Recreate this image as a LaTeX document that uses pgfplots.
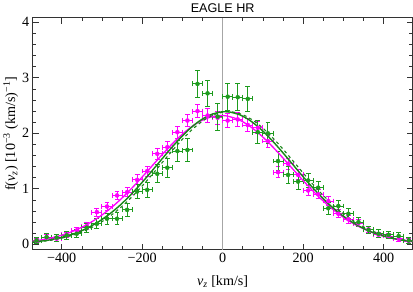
\documentclass[border=0pt]{standalone}
\usepackage{fontspec}
\setmainfont{Liberation Serif}
\newfontfamily\titlefont{Liberation Sans}
\usepackage{pgfplots}
\pgfplotsset{compat=1.18}
\usepackage{pgfplotstable}

\definecolor{mag}{RGB}{255,0,255}
\definecolor{grn}{RGB}{30,155,30}
\definecolor{grnline}{RGB}{25,135,25}

\pgfplotstableread{
x y ex ey
-462.5 0.07 12.5 0.04
-437.5 0.12 12.5 0.05
-412.5 0.10 12.5 0.05
-387.5 0.17 12.5 0.05
-362.5 0.25 12.5 0.06
-337.5 0.33 12.5 0.06
-312.5 0.58 12.5 0.07
-287.5 0.68 12.5 0.07
-262.5 0.88 12.5 0.08
-237.5 0.94 12.5 0.08
-212.5 1.16 12.5 0.09
-187.5 1.32 12.5 0.09
-162.5 1.63 12.5 0.10
-137.5 1.75 12.5 0.10
-112.5 2.02 12.5 0.11
-87.5 2.23 12.5 0.11
-62.5 2.40 12.5 0.12
-37.5 2.32 12.5 0.12
-12.5 2.28 12.5 0.12
12.5 2.23 12.5 0.12
37.5 2.25 12.5 0.12
62.5 2.15 12.5 0.12
87.5 2.10 12.5 0.11
112.5 1.86 12.5 0.11
137.5 1.30 12.5 0.10
162.5 1.45 12.5 0.10
187.5 1.25 12.5 0.09
212.5 0.97 12.5 0.09
237.5 0.90 12.5 0.08
262.5 0.78 12.5 0.08
287.5 0.55 12.5 0.07
312.5 0.45 12.5 0.07
337.5 0.38 12.5 0.06
362.5 0.27 12.5 0.06
387.5 0.17 12.5 0.05
412.5 0.15 12.5 0.05
437.5 0.10 12.5 0.05
462.5 0.06 12.5 0.04
}\magdata

\pgfplotstableread{
x y ex ey
-462.5 0.07 12.5 0.05
-437.5 0.13 12.5 0.06
-412.5 0.12 12.5 0.06
-387.5 0.16 12.5 0.07
-362.5 0.19 12.5 0.07
-337.5 0.30 12.5 0.08
-312.5 0.37 12.5 0.09
-287.5 0.46 12.5 0.10
-262.5 0.46 12.5 0.11
-237.5 0.62 12.5 0.12
-212.5 0.95 12.5 0.13
-187.5 0.98 12.5 0.14
-162.5 1.27 12.5 0.16
-137.5 1.38 12.5 0.17
-112.5 1.68 12.5 0.19
-87.5 1.70 12.5 0.21
-62.5 2.89 12.5 0.24
-37.5 2.72 12.5 0.24
-12.5 2.30 12.5 0.24
12.5 2.66 12.5 0.24
37.5 2.65 12.5 0.24
62.5 2.62 12.5 0.23
87.5 2.02 12.5 0.21
112.5 2.00 12.5 0.19
137.5 1.50 12.5 0.17
162.5 1.25 12.5 0.16
187.5 1.13 12.5 0.14
212.5 1.15 12.5 0.13
237.5 1.02 12.5 0.12
262.5 0.65 12.5 0.11
287.5 0.69 12.5 0.10
312.5 0.55 12.5 0.09
337.5 0.40 12.5 0.08
362.5 0.26 12.5 0.07
387.5 0.19 12.5 0.07
412.5 0.17 12.5 0.06
437.5 0.15 12.5 0.06
462.5 0.07 12.5 0.05
}\grndata

% magenta fit curve
\pgfplotstableread{
x y
-479 0.051
-466.5 0.062
-441.5 0.091
-416.5 0.131
-391.5 0.183
-366.5 0.252
-341.5 0.338
-316.5 0.445
-291.5 0.574
-266.5 0.724
-241.5 0.894
-216.5 1.082
-191.5 1.281
-166.5 1.485
-141.5 1.686
-116.5 1.873
-91.5 2.038
-66.5 2.172
-41.5 2.265
-16.5 2.314
-4 2.320
8.5 2.314
33.5 2.265
58.5 2.172
83.5 2.038
108.5 1.873
133.5 1.686
158.5 1.485
183.5 1.281
208.5 1.082
233.5 0.894
258.5 0.724
283.5 0.574
308.5 0.445
333.5 0.338
358.5 0.252
383.5 0.183
408.5 0.131
433.5 0.091
458.5 0.062
471 0.051
483 0.042
}\magcurve

% green solid fit curve
\pgfplotstableread{
x y
-481 0.034
-469 0.042
-456.5 0.052
-431.5 0.077
-406.5 0.113
-381.5 0.162
-356.5 0.226
-331.5 0.310
-306.5 0.415
-281.5 0.543
-256.5 0.694
-231.5 0.869
-206.5 1.063
-181.5 1.272
-156.5 1.488
-131.5 1.702
-106.5 1.904
-81.5 2.083
-56.5 2.228
-31.5 2.330
-6.5 2.382
6 2.389
18.5 2.382
43.5 2.330
68.5 2.228
93.5 2.083
118.5 1.904
143.5 1.702
168.5 1.488
193.5 1.272
218.5 1.063
243.5 0.869
268.5 0.694
293.5 0.543
318.5 0.415
343.5 0.310
368.5 0.226
393.5 0.162
418.5 0.113
443.5 0.077
468.5 0.052
481 0.042
}\grncurve

% green dashed curve
\pgfplotstableread{
x y
-489 0.026
-476 0.032
-461 0.042
-448.5 0.052
-423.5 0.077
-398.5 0.113
-373.5 0.162
-348.5 0.226
-323.5 0.310
-298.5 0.415
-273.5 0.543
-248.5 0.694
-223.5 0.869
-198.5 1.063
-173.5 1.272
-148.5 1.488
-123.5 1.702
-98.5 1.904
-73.5 2.083
-48.5 2.228
-23.5 2.330
1.5 2.382
14 2.389
26.5 2.382
51.5 2.330
76.5 2.228
101.5 2.083
126.5 1.904
151.5 1.702
176.5 1.488
201.5 1.272
226.5 1.063
251.5 0.869
276.5 0.694
301.5 0.543
326.5 0.415
351.5 0.310
376.5 0.226
401.5 0.162
426.5 0.113
451.5 0.077
476.5 0.052
489 0.042
}\dashcurve

\begin{document}
\begin{tikzpicture}
\begin{axis}[
  scale only axis, width=375bp, height=229bp,
  xmin=-472, xmax=472, ymin=-0.1, ymax=4.08,
  xtick={-400,-200,0,200,400}, xticklabels={−400,−200,0,200,400},
  minor x tick num=3,
  ytick={0,1,2,3,4}, minor y tick num=4,
  tick align=inside, major tick length=6bp, minor tick length=3.5bp,
  ticklabel style={font=\fontsize{14}{16}\selectfont},
  /pgf/number format/assume math mode=true,
  axis line style={line width=0.8pt, black!80},
  every tick/.style={black!80, line width=0.6pt},
  title={\titlefont EAGLE HR},
  title style={font=\fontsize{12.5}{14}\selectfont, yshift=-4bp},
  xlabel={\textit{v}\textsubscript{\textit{z}} [km/s]},
  ylabel={f(\textit{v}\textsubscript{\textit{z}}) [10\textsuperscript{−3} (km/s)\textsuperscript{−1}]},
  label style={font=\fontsize{14}{16}\selectfont},
  xlabel style={yshift=-6bp},
  ylabel style={yshift=-3bp},
  clip=true,
]
\addplot[gray!70, line width=0.8pt, forget plot] coordinates {(0,-0.1) (0,4.08)};
\addplot[only marks, mark=none, color=mag,
  error bars/.cd, x dir=both, x explicit, y dir=both, y explicit,
  error bar style={line width=0.9pt, mag},
  error mark options={rotate=90, mark size=2.4pt, line width=0.9pt, mag}]
  table[x=x, y=y, x error=ex, y error=ey] {\magdata};
\addplot[only marks, mark=none, color=grn,
  error bars/.cd, x dir=both, x explicit, y dir=both, y explicit,
  error bar style={line width=0.9pt, grn},
  error mark options={rotate=90, mark size=2.4pt, line width=0.9pt, grn}]
  table[x=x, y=y, x error=ex, y error=ey] {\grndata};
\addplot[mag, line width=1.3pt, smooth] table[x=x, y=y] {\magcurve};
\addplot[grnline, line width=1.4pt, smooth] table[x=x, y=y] {\grncurve};
\addplot[grnline, line width=1.1pt, dashed, smooth] table[x=x, y=y] {\dashcurve};
\end{axis}
\end{tikzpicture}
\end{document}
